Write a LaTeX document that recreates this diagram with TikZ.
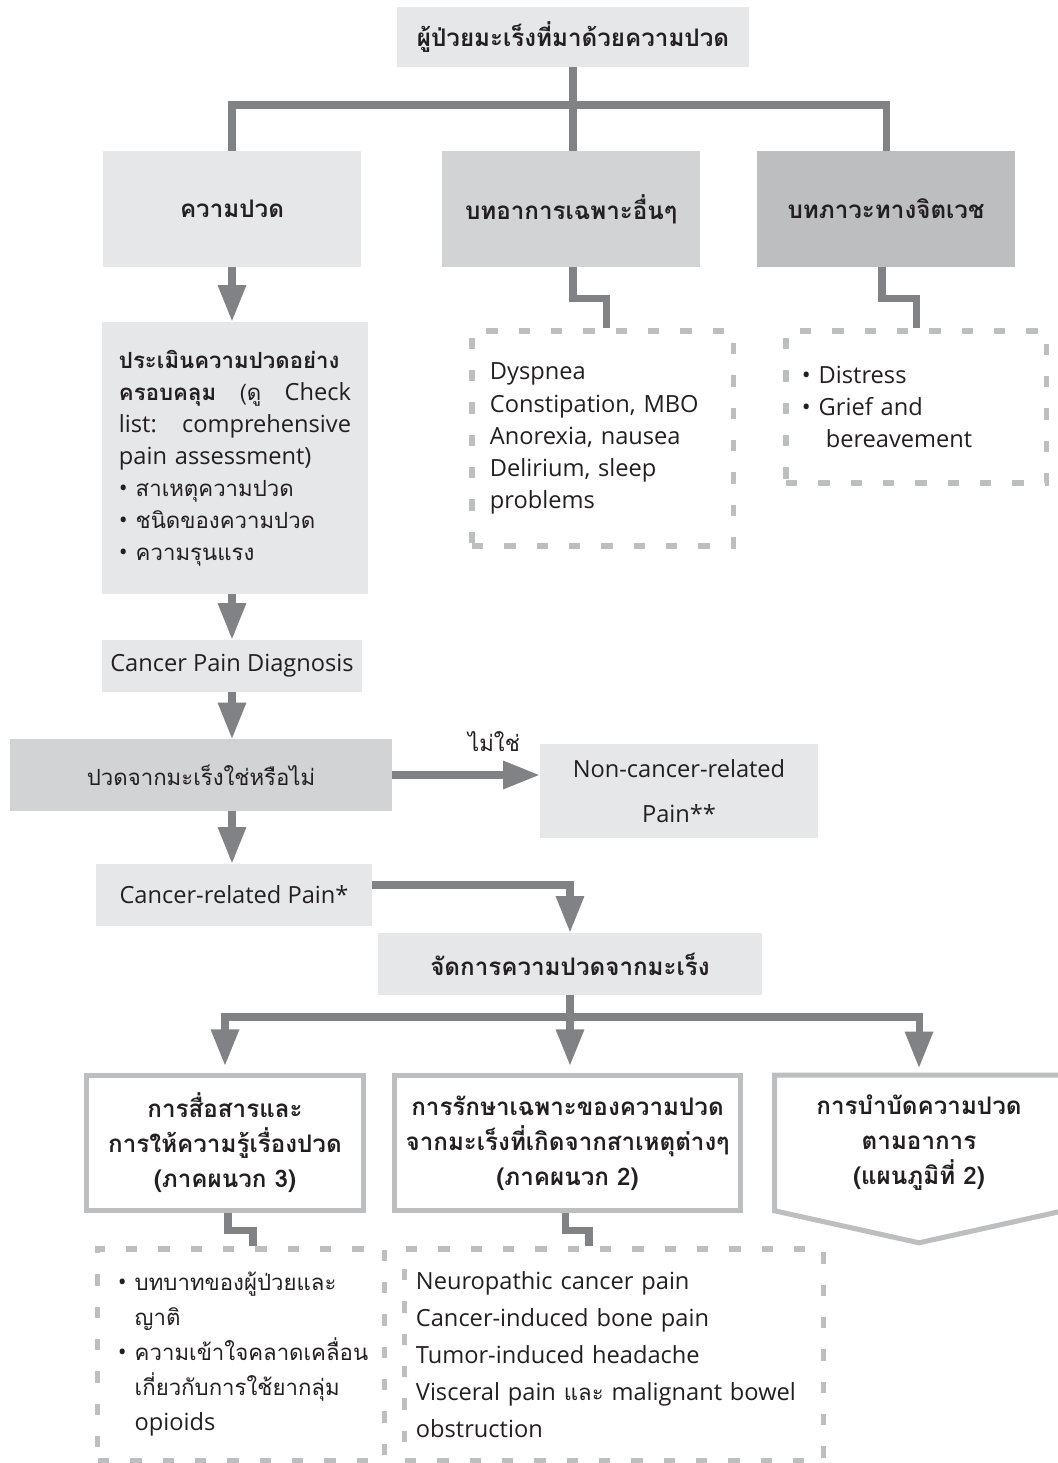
\documentclass[tikz,border=0pt]{standalone}
\usepackage{fontspec}
\usepackage{xcolor}
\usepackage{tikz}
\usetikzlibrary{arrows.meta, positioning, calc}
\setmainfont{Open Sans}
\newfontfamily\thaifont[Script=Thai, Scale=0.94]{Loma}
\newcommand{\thai}[1]{{\thaifont #1}}
\newcommand{\bodyfont}[1][22.8]{\fontsize{16.8}{#1}\selectfont\lineskiplimit=-8pt\relax}
\newcommand{\headfont}[1][24.9]{\fontsize{18.3}{#1}\selectfont\bfseries\lineskiplimit=-8pt\relax}
\definecolor{BoxLight}{RGB}{230, 231, 232}
\definecolor{BoxMid}{RGB}{209, 211, 212}
\definecolor{BoxDark}{RGB}{188, 190, 192}
\definecolor{LinkGray}{RGB}{128, 130, 133}
\definecolor{TextDark}{RGB}{35, 31, 32}

\begin{document}
\begin{tikzpicture}[x=0.025cm, y=-0.025cm,
    every node/.append style={text=TextDark},
    fillbox/.style={fill=#1, inner sep=0pt, align=center},
    outlinebox/.style={draw=BoxDark, line width=3.6pt, inner sep=0pt, align=center, font=\headfont},
    dashbox/.style={draw=BoxDark, line width=3.6pt, dash pattern=on 8pt off 15pt, inner ysep=0pt, align=left},
    link/.style={draw=LinkGray, line width=5pt},
    flow/.style={link, -{Triangle[width=19pt, length=26pt]}}]
    \useasboundingbox (0,0) rectangle (1057,1463);

    % ส่วนหัว
    \node[fillbox=BoxLight, minimum width=8.8cm, minimum height=1.5cm, font=\headfont] (patient) at (573,37) {\thai{ผู้ป่วยมะเร็งที่มาด้วยความปวด}};

    % สามกลุ่มอาการ
    \node[fillbox=BoxLight, minimum width=6.45cm, minimum height=2.9cm, font=\headfont] (pain) at (232,209) {\thai{ความปวด}};
    \node[fillbox=BoxMid, minimum width=6.45cm, minimum height=2.9cm, font=\headfont] (symp) at (571,209) {\thai{บทอาการเฉพาะอื่นๆ}};
    \node[fillbox=BoxDark, minimum width=6.45cm, minimum height=2.9cm, font=\headfont] (psych) at (886,209) {\thai{บทภาวะทางจิตเวช}};

    \coordinate (split) at (573,105);
    \draw[link] (patient.south) -- (split);
    \draw[link] (pain.north) |- (split) -| (psych.north);
    \draw[link] (split) -- (split |- symp.north);

    % รายการอาการ
    \node[dashbox, minimum height=5.375cm, text width=5.625cm, inner xsep=0.45cm, font=\bodyfont] (symlist) at (602.5,438.5) {Dyspnea\\Constipation, MBO\\Anorexia, nausea\\Delirium, sleep\\problems};
    \node[dashbox, minimum height=3.8cm, text width=5.7cm, inner xsep=0.4cm, font=\bodyfont] (psylist) at (916,407) {• Distress\\• Grief and\\\phantom{• }\hspace{5pt}bereavement};
    \draw[link] ([xshift=0.05cm]symp.south) -- ++(0,31) -| ([xshift=0.11cm]symlist.north);
    \draw[link] ([xshift=-0.1cm]psych.south) -- ++(0,31) -| (psylist.north);

    % การประเมิน
    \node[fill=BoxLight, minimum height=6.8cm, text width=5.8cm, inner xsep=0.425cm, inner ysep=0pt, align=left, font=\bodyfont] (assess) at (235,458) {%
        \textbf{\thai{ประเมินความปวดอย่าง}}\\
        \makebox[\linewidth][s]{\textbf{\thai{ครอบคลุม}}\hfill\thai{(ดู}\hfill Check}\\
        \makebox[\linewidth][s]{list:\hfill comprehensive}\\
        pain assessment)\\
        • \thai{สาเหตุความปวด}\\
        • \thai{ชนิดของความปวด}\\
        • \thai{ความรุนแรง}};
    \draw[flow] (pain.south) -- (pain.south |- assess.north);

    \node[fillbox=BoxLight, minimum width=6.475cm, minimum height=1.3cm, font=\bodyfont] (diag) at (232,666) {Cancer Pain Diagnosis};
    \draw[flow] (assess.south -| diag.south) -- (diag.north);

    % คำถาม
    \node[fillbox=BoxMid, minimum width=9.55cm, minimum height=1.775cm, font=\bodyfont] (ask) at (201,775) {\thai{ปวดจากมะเร็งใช่หรือไม่}};
    \node[fillbox=BoxLight, minimum width=6.95cm, minimum height=2.325cm, font={\bodyfont[32]}] (noncan) at (679,791) {Non-cancer-related\\Pain**};
    \node[font=\bodyfont] (nolabel) at (494,742) {\thai{ไม่ใช่}};
    \draw[flow] (diag.south) -- (diag.south |- ask.north);
    \draw[flow] (ask.east) -- (ask.east -| noncan.west);

    \node[fillbox=BoxLight, minimum width=6.9cm, minimum height=1.55cm, font=\bodyfont] (related) at (234,895) {Cancer-related Pain*};
    \draw[flow] (ask.south -| diag.south) -- (diag.south |- related.north);

    % การจัดการ
    \node[fillbox=BoxLight, minimum width=9.575cm, minimum height=1.55cm, font=\headfont] (manage) at (570,964) {\thai{จัดการความปวดจากมะเร็ง}};
    \draw[flow] ([yshift=0.25cm]related.east) -| (manage.north);

    \node[outlinebox, minimum width=6.925cm, minimum height=3.375cm] (edu) at (225,1143) {\thai{การสื่อสารและ}\\\thai{การให้ความรู้เรื่องปวด}\\\thai{(ภาคผนวก 3)}};
    \node[outlinebox, minimum width=8.65cm, minimum height=3.375cm] (spec) at (567.5,1143) {\thai{การรักษาเฉพาะของความปวด}\\\thai{จากมะเร็งที่เกิดจากสาเหตุต่างๆ}\\\thai{(ภาคผนวก 2)}};
    \node[inner sep=0pt, align=center, minimum width=7.2cm, minimum height=3.375cm, font=\headfont] (symtx) at (919,1143) {\thai{การบำบัดความปวด}\\\thai{ตามอาการ}\\\thai{(แผนภูมิที่ 2)}};
    \draw[draw=BoxDark, line width=3.6pt] (symtx.north east) -- (symtx.north west) -- (symtx.south west) -- ($(symtx.south)+(0,32)$) -- (symtx.south east) -- cycle;

    \coordinate (split2) at (570,1017);
    \draw[link] (manage.south) -- (split2);
    \draw[flow, shorten >=5pt] (split2) -| (edu.north);
    \draw[flow, shorten >=5pt] (split2) -| (symtx.north);
    \draw[flow, shorten >=5pt] (split2) -- (split2 |- spec.north);

    % รายละเอียดด้านล่าง
    \node[dashbox, minimum height=5.275cm, text width=6.15cm, inner xsep=0.5cm, font={\bodyfont[24.9]}] (edulist) at (241,1354.5) {%
        \mbox{• \thai{บทบาทของผู้ป่วยและ}}\\
        \phantom{• }\thai{ญาติ}\\
        \mbox{• \thai{ความเข้าใจคลาดเคลื่อน}}\\
        \phantom{• }\thai{เกี่ยวกับการใช้ยากลุ่ม}\\
        \phantom{• }opioids};
    \node[dashbox, minimum height=5.275cm, text width=9.9cm, inner xsep=0.275cm, font={\bodyfont[26.3]}] (speclist) at (614,1354.5) {%
        Neuropathic cancer pain\\
        Cancer-induced bone pain\\
        Tumor-induced headache\\
        \mbox{Visceral pain \thai{และ} malignant bowel}\\
        obstruction};
    \draw[link] ([xshift=0.075cm]edu.south) -- ++(0,17) -| ([xshift=0.3cm]edulist.north);
    \draw[link] ([xshift=-0.04cm]spec.south) -- ++(0,17) -| ([xshift=-0.625cm]speclist.north);

\end{tikzpicture}
\end{document}
